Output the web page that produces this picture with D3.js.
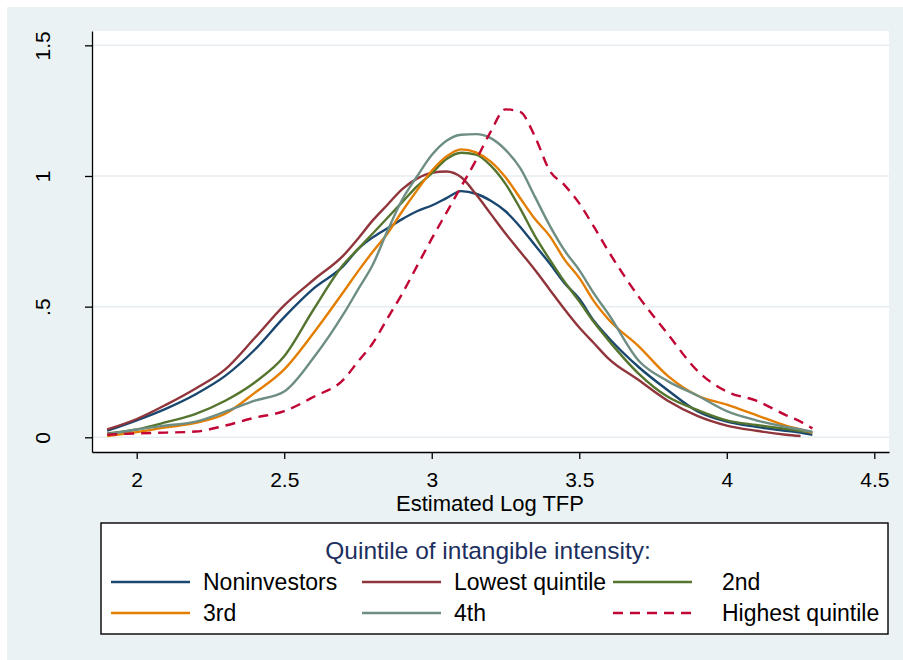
<!DOCTYPE html>
<html>
<head>
<meta charset="utf-8">
<script src="https://cdn.jsdelivr.net/npm/d3@7"></script>
<style>
  html, body { margin: 0; padding: 0; background: #ffffff; }
  svg { display: block; font-family: "Liberation Sans", Arial, Helvetica, sans-serif; }
</style>
</head>
<body>
<svg id="chart" width="903" height="660"></svg>
<script>
// ---- data ----
const tfpGrid = [1.9, 2.0, 2.1, 2.2, 2.3, 2.4, 2.5, 2.6, 2.7, 2.75, 2.8, 2.85, 2.9, 2.95, 3.0, 3.05, 3.1, 3.15, 3.2, 3.25, 3.3, 3.35, 3.4, 3.45, 3.5, 3.55, 3.6, 3.7, 3.8, 3.9, 4.0, 4.1, 4.2, 4.25, 4.29];
const noninvestors = [0.025, 0.065, 0.11, 0.165, 0.235, 0.335, 0.46, 0.57, 0.655, 0.72, 0.765, 0.80, 0.835, 0.865, 0.887, 0.915, 0.942, 0.932, 0.905, 0.865, 0.805, 0.735, 0.665, 0.59, 0.53, 0.445, 0.38, 0.27, 0.18, 0.10, 0.06, 0.04, 0.025, 0.018, 0.009];
const lowestQuintile = [0.03, 0.07, 0.125, 0.187, 0.26, 0.38, 0.505, 0.603, 0.695, 0.76, 0.83, 0.89, 0.95, 0.99, 1.012, 1.017, 0.995, 0.93, 0.855, 0.78, 0.71, 0.64, 0.565, 0.49, 0.42, 0.36, 0.30, 0.22, 0.14, 0.082, 0.045, 0.025, 0.01, 0.005, null];
const secondQuintile = [0.015, 0.03, 0.058, 0.09, 0.14, 0.21, 0.31, 0.49, 0.66, 0.72, 0.78, 0.84, 0.90, 0.96, 1.01, 1.065, 1.089, 1.082, 1.04, 0.97, 0.875, 0.77, 0.68, 0.595, 0.52, 0.44, 0.37, 0.245, 0.155, 0.105, 0.065, 0.047, 0.032, 0.024, 0.018];
const thirdQuintile = [0.005, 0.02, 0.038, 0.055, 0.09, 0.17, 0.26, 0.40, 0.555, 0.635, 0.71, 0.78, 0.865, 0.945, 1.02, 1.075, 1.102, 1.09, 1.055, 0.995, 0.915, 0.835, 0.77, 0.68, 0.61, 0.52, 0.45, 0.35, 0.235, 0.16, 0.125, 0.085, 0.045, 0.03, 0.018];
const fourthQuintile = [0.012, 0.03, 0.045, 0.06, 0.098, 0.14, 0.175, 0.305, 0.47, 0.565, 0.66, 0.79, 0.91, 0.998, 1.08, 1.135, 1.158, 1.16, 1.145, 1.10, 1.03, 0.92, 0.81, 0.715, 0.64, 0.55, 0.47, 0.295, 0.215, 0.16, 0.10, 0.065, 0.04, 0.03, 0.021];
const highestQuintile = [0.01, 0.015, 0.018, 0.022, 0.045, 0.075, 0.10, 0.155, 0.22, 0.29, 0.36, 0.455, 0.55, 0.655, 0.76, 0.86, 0.96, 1.06, 1.17, 1.255, 1.245, 1.15, 1.02, 0.965, 0.895, 0.805, 0.71, 0.54, 0.395, 0.255, 0.175, 0.14, 0.085, 0.06, 0.034];

const seriesNames = ["Noninvestors", "Lowest quintile", "2nd", "3rd", "4th", "Highest quintile"];
const seriesValues = [noninvestors, lowestQuintile, secondQuintile, thirdQuintile, fourthQuintile, highestQuintile];
const seriesColors = ["#1a476f", "#90353b", "#55752f", "#e37e00", "#6e8e84", "#c10534"];
const seriesDashed = [false, false, false, false, false, true];

const xTicks = [2, 2.5, 3, 3.5, 4, 4.5];
const xTickLabels = ["2", "2.5", "3", "3.5", "4", "4.5"];
const yTicks = [0, 0.5, 1, 1.5];
const yTickLabels = ["0", ".5", "1", "1.5"];
const xTitle = "Estimated Log TFP";
const legendTitle = "Quintile of intangible intensity:";

// ---- layout ----
const svg = d3.select("#chart");
const plot = { left: 92, right: 889, top: 31, bottom: 452 };

svg.append("rect").attr("x", 7).attr("y", 7).attr("width", 896).attr("height", 653).attr("fill", "#eaf2f3");
svg.append("rect").attr("x", plot.left).attr("y", plot.top)
  .attr("width", plot.right - plot.left).attr("height", plot.bottom - plot.top).attr("fill", "#ffffff");

const x = d3.scaleLinear().domain([1.8485, 4.5498]).range([plot.left, plot.right]);
const y = d3.scaleLinear().domain([-0.05625, 1.5548]).range([plot.bottom, plot.top]);

// grid
svg.append("g").selectAll("line").data(yTicks).join("line")
  .attr("x1", plot.left).attr("x2", plot.right)
  .attr("y1", d => y(d)).attr("y2", d => y(d))
  .attr("stroke", "#e6eef1").attr("stroke-width", 1.6);

// curves
const line = d3.line()
  .defined(d => d[1] !== null)
  .x(d => x(d[0])).y(d => y(d[1]))
  .curve(d3.curveMonotoneX);

const curves = svg.append("g");
seriesValues.forEach((vals, i) => {
  const pts = tfpGrid.map((t, j) => [t, vals[j]]);
  curves.append("path").datum(pts)
    .attr("d", line)
    .attr("fill", "none")
    .attr("stroke", seriesColors[i])
    .attr("stroke-width", 2.4)
    .attr("stroke-linejoin", "round")
    .attr("stroke-dasharray", seriesDashed[i] ? "10,7" : null);
});

// axes
const xAxis = d3.axisBottom(x).tickValues(xTicks)
  .tickFormat((d, i) => xTickLabels[i]).tickSizeOuter(0).tickSizeInner(7).tickPadding(8);
const gx = svg.append("g").attr("transform", `translate(0,${plot.bottom})`).call(xAxis);
gx.select(".domain").attr("stroke", "#000").attr("stroke-width", 1.3);
gx.selectAll(".tick line").attr("stroke", "#000").attr("stroke-width", 1.3);
gx.selectAll(".tick text").attr("font-size", 21).attr("fill", "#000")
  .attr("font-family", "'Liberation Sans', Arial, sans-serif").attr("dy", "0.95em");

const yAxis = d3.axisLeft(y).tickValues(yTicks)
  .tickFormat((d, i) => yTickLabels[i]).tickSizeOuter(0).tickSizeInner(7);
const gy = svg.append("g").attr("transform", `translate(${plot.left},0)`).call(yAxis);
gy.select(".domain").attr("stroke", "#000").attr("stroke-width", 1.3);
gy.selectAll(".tick line").attr("stroke", "#000").attr("stroke-width", 1.3);
gy.selectAll(".tick text")
  .attr("font-size", 21).attr("fill", "#000")
  .attr("font-family", "'Liberation Sans', Arial, sans-serif")
  .attr("x", null).attr("dy", null)
  .attr("text-anchor", "middle")
  .attr("transform", "translate(-42,0) rotate(-90)");

// x title
svg.append("text").attr("x", 490).attr("y", 511).attr("text-anchor", "middle")
  .attr("font-size", 22).attr("fill", "#000").text(xTitle);

// legend
const lg = svg.append("g");
lg.append("rect").attr("x", 101).attr("y", 523).attr("width", 787).attr("height", 111)
  .attr("fill", "#ffffff").attr("stroke", "#000").attr("stroke-width", 1.4);
lg.append("text").attr("x", 488).attr("y", 559).attr("text-anchor", "middle")
  .attr("font-size", 24.5).attr("fill", "#1c2f5e").text(legendTitle);

const colX = [111, 362, 613];
const rowY = [582, 613];
seriesNames.forEach((name, i) => {
  const cx = colX[i % 3], cy = rowY[Math.floor(i / 3)];
  lg.append("line").attr("x1", cx).attr("x2", cx + 79).attr("y1", cy).attr("y2", cy)
    .attr("stroke", seriesColors[i]).attr("stroke-width", 2.4)
    .attr("stroke-dasharray", seriesDashed[i] ? "10,7" : null);
  lg.append("text").attr("x", cx + 92 + (i % 3 === 2 ? 17 : 0)).attr("y", cy + 8)
    .attr("font-size", 23).attr("fill", "#000").text(name);
});
</script>
</body>
</html>
